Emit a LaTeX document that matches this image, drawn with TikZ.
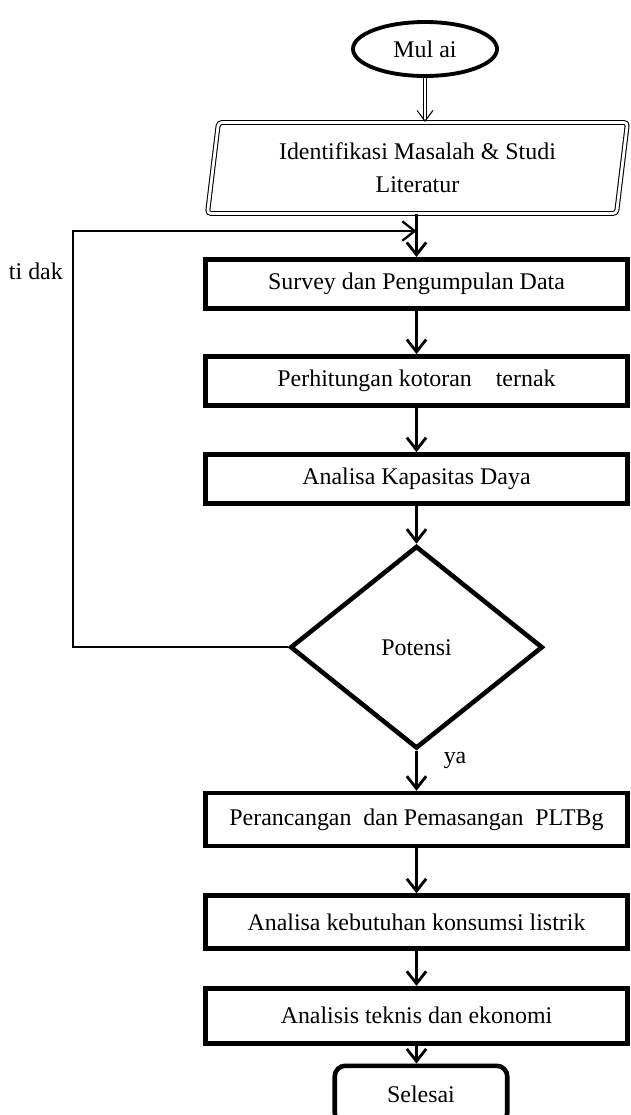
\documentclass[tikz,border=0pt]{standalone}
\usepackage{fontspec}
\setmainfont{Liberation Serif}
\usetikzlibrary{positioning,shapes.geometric,arrows.meta,calc}

\tikzset{
	proc/.style={draw=black, line width=2.6pt, minimum width=8.45cm, minimum height=0.98cm, inner sep=2pt},
	flow/.style={-{Straight Barb[length=7pt,width=11pt]}, line width=1.6pt},
}

\begin{document}
\begin{tikzpicture}[font=\fontsize{13.6}{20}\selectfont]
		\useasboundingbox (0,0) rectangle (12.6,-22.3);
		\clip (0,0) rectangle (12.6,-22.3);
		
		\node[draw=black, ellipse, line width=2.2pt, minimum width=2.88cm, minimum height=1.08cm] (mulai) at (8.5,-0.98) {Mul ai};
		
		\node[draw=black, trapezium, trapezium left angle=80, trapezium right angle=100, trapezium stretches body, double, double distance=1.6pt, line width=0.6pt, rounded corners=2pt, minimum width=8.4cm, minimum height=1.82cm, align=center, below=0.88cm of mulai, xshift=-0.15cm] (ident) {Identifikasi Masalah \& Studi\\[-1pt]Literatur};
		
		\node[proc, below=0.86cm of ident, xshift=-0.02cm] (survey) {Survey dan Pengumpulan Data};
		\node[proc, below=0.87cm of survey] (hitung) {Perhitungan kotoran\quad ternak};
		\node[proc, below=0.89cm of hitung] (kapasitas) {Analisa Kapasitas Daya};
		
		\node[draw=black, diamond, line width=2.6pt, minimum width=5.05cm, minimum height=4.05cm, below=0.76cm of kapasitas] (potensi) {Potensi};
		
		\node[proc, minimum height=1.06cm, below=0.8cm of potensi] (rancang) {Perancangan\enspace dan Pemasangan\enspace PLTBg};
		\node[proc, minimum height=1.06cm, below=0.9cm of rancang] (konsumsi) {Analisa kebutuhan konsumsi listrik};
		\node[proc, minimum height=1.1cm, below=0.7cm of konsumsi] (teknis) {Analisis teknis dan ekonomi};
		
		\node[draw=black, rounded corners=6pt, line width=2.6pt, minimum width=3.45cm, minimum height=1.15cm, below=0.36cm of teknis, xshift=0.09cm] (selesai) {Selesai};
		
		\coordinate (loop) at ($(survey.north)+(0,0.52)$);
		\coordinate (back) at ($(potensi.west)+(-4.3,0)$);
		\node[anchor=east] (tidak) at ($(back)+(-0.08,7.52)$) {ti dak};
		
		\draw[-{Straight Barb[length=6pt,width=9pt]}, double, double distance=1.4pt, line width=0.6pt] (mulai.south) -- (mulai.south |- ident.north);
		\draw[flow] (survey.north |- ident.south) -- (survey.north);
		\draw[flow] (survey) -- (hitung);
		\draw[flow] (hitung) -- (kapasitas);
		\draw[flow] (kapasitas) -- (potensi);
		\draw[flow] (potensi) -- node[pos=0.25, anchor=west, xshift=0.4cm] (ya) {ya} (rancang);
		\draw[flow] (rancang) -- (konsumsi);
		\draw[flow] (konsumsi) -- (teknis);
		\draw[flow] (teknis.south) -- (teknis.south |- selesai.north);
		\draw[line width=1.3pt, -{Straight Barb[length=7pt,width=11pt]}] (potensi.west) -- (back) |- (loop);
	\end{tikzpicture}
\end{document}
